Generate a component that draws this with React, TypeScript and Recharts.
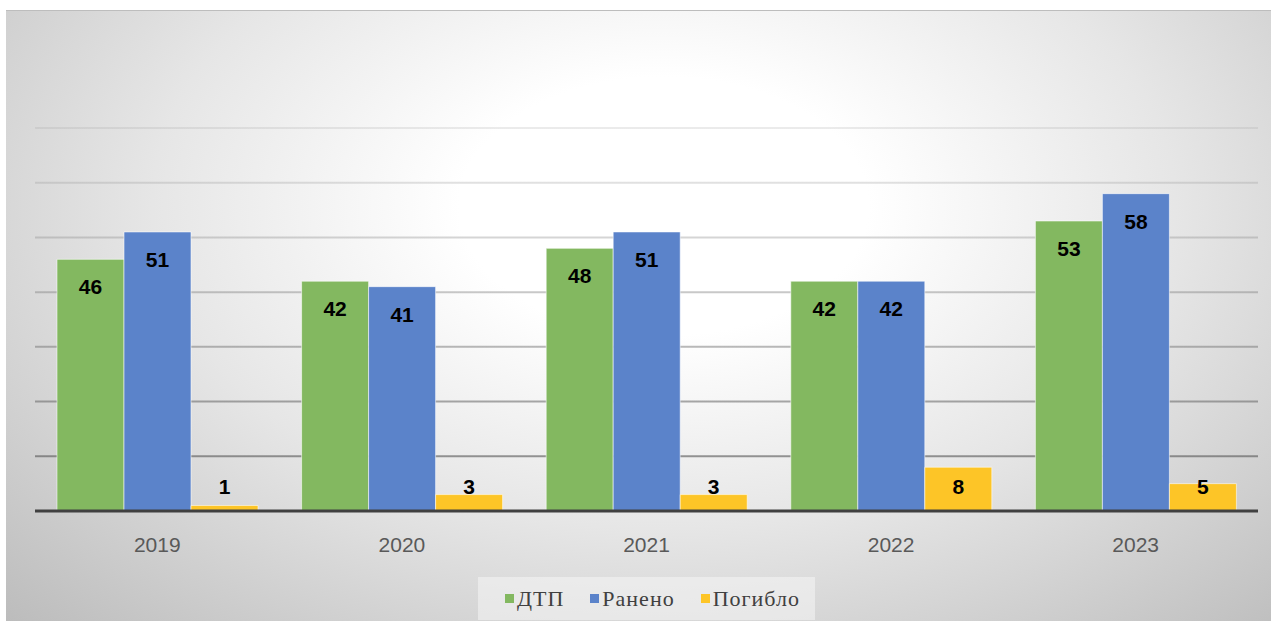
import {
  BarChart,
  Bar,
  XAxis,
  YAxis,
  CartesianGrid,
  LabelList,
  Legend
} from 'recharts';

const YEARS = ['2019', '2020', '2021', '2022', '2023'];
const DTP = [46, 42, 48, 42, 53];
const INJURED = [51, 41, 51, 42, 58];
const KILLED = [1, 3, 3, 8, 5];
const Y_TICKS = [0, 10, 20, 30, 40, 50, 60, 70];

const SERIES = [
  { key: 'dtp', name: 'ДТП', color: '#83B860' },
  { key: 'injured', name: 'Ранено', color: '#5B83CA' },
  { key: 'killed', name: 'Погибло', color: '#FDC527' }
];

const data = YEARS.map((year, i) => ({
  year,
  dtp: DTP[i],
  injured: INJURED[i],
  killed: KILLED[i]
}));

const LABEL_FONT = 'Liberation Sans, Arial, sans-serif';

function LegendBox() {
  return (
    <div
      style={{
        display: 'flex',
        alignItems: 'center',
        height: '100%',
        paddingLeft: 27,
        boxSizing: 'border-box',
        background: 'rgba(245,245,245,0.55)',
        fontFamily: 'Liberation Serif, Times New Roman, serif',
        fontSize: 22,
        letterSpacing: 1,
        color: '#404040'
      }}
    >
      {SERIES.map((s) => (
        <div key={s.key} style={{ display: 'flex', alignItems: 'center', marginRight: 26 }}>
          <span style={{ width: 9, height: 9, background: s.color, marginRight: 3, display: 'inline-block' }} />
          <span>{s.name}</span>
        </div>
      ))}
    </div>
  );
}

export default function App() {
  return (
    <div style={{ position: 'fixed', left: 0, top: 0, width: 1279, height: 628, background: '#fff' }}>
      <div
        style={{
          position: 'absolute',
          left: 6,
          top: 10,
          width: 1265,
          height: 610,
          borderTop: '1px solid #bdbdbd',
          background:
            'radial-gradient(ellipse farthest-corner at 52% 32%, #ffffff 0%, #ffffff 22%, #e6e6e6 55%, #bcbcbc 100%)'
        }}
      />
      <div style={{ position: 'absolute', left: 0, top: 0 }}>
        <BarChart
          width={1279}
          height={628}
          data={data}
          margin={{ top: 128, right: 21, left: 35, bottom: 77 }}
          barCategoryGap={22}
          barGap={0}
        >
          <defs>
            <linearGradient id="gridFade" gradientUnits="userSpaceOnUse" x1="0" y1="128" x2="0" y2="511">
              <stop offset="0%" stopColor="#9a9a9a" stopOpacity={0.2} />
              <stop offset="100%" stopColor="#505050" stopOpacity={0.7} />
            </linearGradient>
          </defs>
          <CartesianGrid vertical={false} stroke="url(#gridFade)" strokeWidth={2} />
          <YAxis hide domain={[0, 70]} ticks={Y_TICKS} />
          <XAxis
            dataKey="year"
            height={40}
            axisLine={{ stroke: '#404040', strokeWidth: 3 }}
            tickLine={false}
            tickSize={6}
            tickMargin={20}
            tick={{ fill: '#595959', fontSize: 21, fontFamily: LABEL_FONT }}
          />
          <Legend
            layout="horizontal"
            align="center"
            verticalAlign="middle"
            content={() => <LegendBox />}
            wrapperStyle={{ left: 478, top: 577, width: 337, height: 43 }}
          />
          {SERIES.map((s) => (
            <Bar
              key={s.key}
              dataKey={s.key}
              name={s.name}
              fill={s.color}
              stroke="#ffffff"
              strokeOpacity={0.55}
              strokeWidth={1}
              isAnimationActive={false}
            >
              <LabelList
                dataKey={s.key}
                position={s.key === 'killed' ? 'insideBottom' : 'insideTop'}
                offset={s.key === 'killed' ? 17 : 20}
                fill="#000"
                fontSize={21}
                fontWeight="bold"
                fontFamily={LABEL_FONT}
              />
            </Bar>
          ))}
        </BarChart>
      </div>
    </div>
  );
}
